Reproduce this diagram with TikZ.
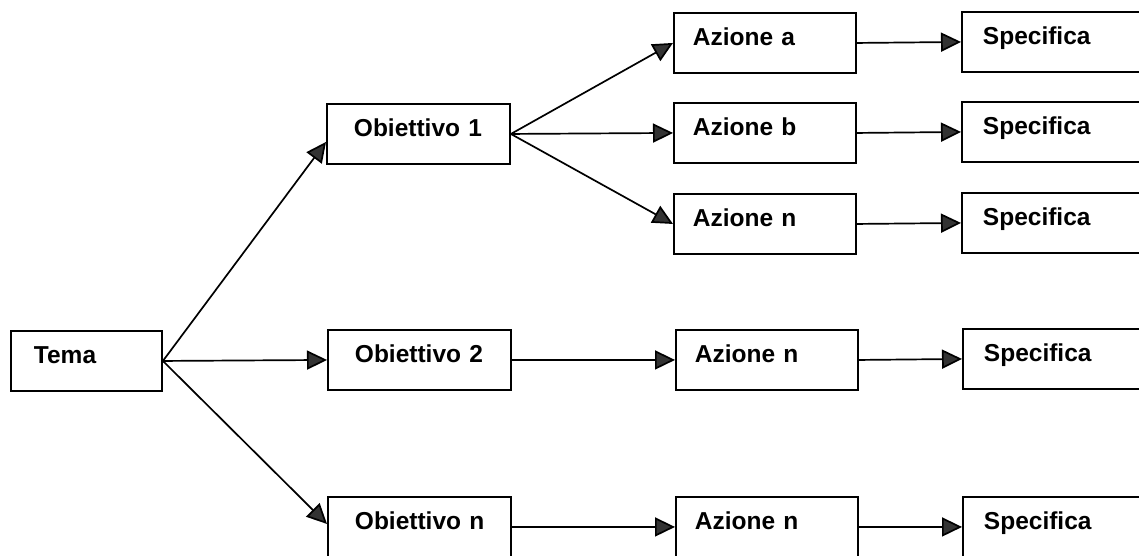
\documentclass[tikz,border=0pt]{standalone}
\usepackage{fontspec}
\setmainfont{Liberation Sans}
\usetikzlibrary{arrows.meta}
\begin{document}
\begin{tikzpicture}[x=1pt,y=-1pt,
  box/.style={draw=black, line width=1.9pt, rectangle, anchor=north west,
    minimum height=60pt, inner ysep=0pt, text height=18pt, text depth=12pt,
    align=left, font=\fontsize{24.5}{29}\selectfont\bfseries},
  temabox/.style={box, inner xsep=23pt, text width=105pt},
  objbox/.style={box, inner xsep=27pt, text width=129pt},
  azbox/.style={box, inner xsep=19pt, text width=144pt},
  specbox/.style={box, inner xsep=21pt, text width=200pt},
  conn/.style={line width=1.7pt, draw=black,
    -{Triangle[length=20pt,width=19pt,fill=black!80]}}
]
\useasboundingbox (0,0) rectangle (1139,555);
\fill[white] (0,0) rectangle (1139,555);
\clip (0,0) rectangle (1139,555);

\node[temabox] (tema) at (10,330) {Tema};

\node[objbox] (o1) at (326,103) {Obiettivo~1};
\node[objbox] (o2) at (327,329) {Obiettivo~2};
\node[objbox] (on) at (327,496) {Obiettivo~n};

\node[azbox] (aa)  at (673,12)  {Azione a};
\node[azbox] (ab)  at (673,102) {Azione b};
\node[azbox] (an1) at (673,193) {Azione n};
\node[azbox] (an2) at (675,329) {Azione n};
\node[azbox] (an3) at (675,496) {Azione n};

\node[specbox] (s1) at (961,11)  {Specifica};
\node[specbox] (s2) at (961,101) {Specifica};
\node[specbox] (s3) at (961,192) {Specifica};
\node[specbox] (s4) at (962,328) {Specifica};
\node[specbox] (s5) at (962,496) {Specifica};

\draw[conn] (tema.east) -- ([yshift=-8pt]o1.west);
\draw[conn] (tema.east) -- (o2.west);
\draw[conn] (tema.east) -- ([yshift=3pt]on.west);

\draw[conn] (o1.east) -- (aa.west);
\draw[conn] (o1.east) -- (ab.west);
\draw[conn] (o1.east) -- (an1.west);
\draw[conn] (o2.east) -- (an2.west);
\draw[conn] (on.east) -- (an3.west);

\draw[conn] (aa.east)  -- (s1.west);
\draw[conn] (ab.east)  -- (s2.west);
\draw[conn] (an1.east) -- (s3.west);
\draw[conn] (an2.east) -- (s4.west);
\draw[conn] (an3.east) -- (s5.west);
\end{tikzpicture}
\end{document}
